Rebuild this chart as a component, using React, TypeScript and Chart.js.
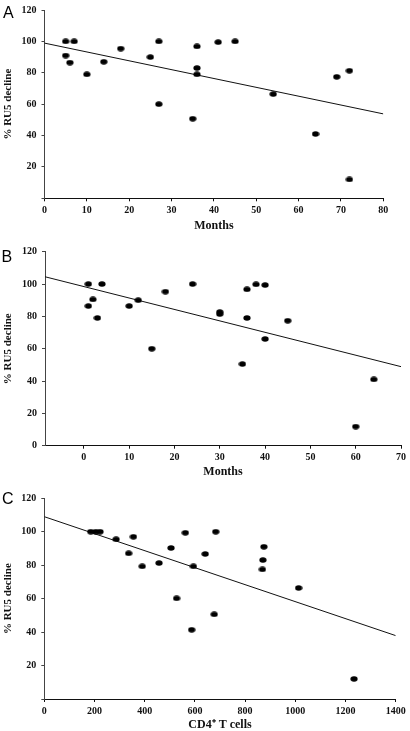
import React, { useEffect, useRef } from "react";
import { Chart, registerables } from "chart.js";

Chart.register(...registerables);

// ---------- Data ----------
// Panel A: months vs % RU5 decline
const aMonths = [5, 7, 5, 6, 10, 14, 18, 25, 27, 27, 35, 36, 36, 36, 41, 45, 54, 64, 69, 72, 72];
const aDecline = [100, 100, 91, 86.5, 79, 87, 95.4, 90, 100, 60, 50.7, 96.8, 83, 79, 99.5, 100, 66.4, 41, 77.4, 81.3, 12];
const aFitX = [0, 80];
const aFitY = [98.9, 53.8];

// Panel B: months vs % RU5 decline
const bMonths = [1, 1, 2, 3, 4, 10, 12, 15, 18, 24, 30, 30, 35, 36, 36, 38, 40, 40, 45, 60, 64];
const bDecline = [100, 86.4, 90.5, 79, 100, 86.4, 90, 60, 95.3, 100, 82.7, 81.4, 50.5, 96.7, 79, 99.8, 99.4, 66, 77.3, 11.8, 41];
const bFitX = [-8.57, 70];
const bFitY = [104.5, 48.9];

// Panel C: CD4+ T cells vs % RU5 decline
const cCells = [185, 205, 222, 286, 355, 336, 390, 457, 505, 562, 594, 641, 683, 527, 677, 587, 875, 871, 869, 1013, 1234];
const cDecline = [100, 100, 100, 95.5, 97, 87.1, 79.3, 81.3, 90.3, 99.4, 79.3, 86.7, 100, 60.2, 50.6, 41.4, 91, 83.1, 77.5, 66.4, 12];
const cFitX = [0, 1400];
const cFitY = [109, 37.9];

// Ticks
const yTickValues = [0, 20, 40, 60, 80, 100, 120];
const aYLabels = ["", "20", "40", "60", "80", "100", "120"];
const bYLabels = ["0", "20", "40", "60", "80", "100", "120"];
const cYLabels = ["", "20", "40", "60", "80", "100", "120"];
const aXTicks = [0, 10, 20, 30, 40, 50, 60, 70, 80];
const bXTicks = [0, 10, 20, 30, 40, 50, 60, 70];
const cXTicks = [0, 200, 400, 600, 800, 1000, 1200, 1400];

const yTitle = "% RU5 decline";
const aXTitle = "Months";
const bXTitle = "Months";
const cXTitle = "CD4\u207A T cells";
const panelLetters = ["A", "B", "C"];

// ---------- Helpers ----------
function makeDot(): HTMLCanvasElement {
  const c = document.createElement("canvas");
  c.width = 8;
  c.height = 6;
  const ctx = c.getContext("2d")!;
  ctx.fillStyle = "#000";
  ctx.beginPath();
  ctx.ellipse(4, 3, 3.6, 2.8, 0, 0, Math.PI * 2);
  ctx.fill();
  return c;
}

const SERIF = "'Liberation Serif', 'Times New Roman', serif";

interface PanelProps {
  xs: number[];
  ys: number[];
  fitX: number[];
  fitY: number[];
  xMin: number;
  xMax: number;
  xTicks: number[];
  yLabels: string[];
  xTitle: string;
  top: number;
  height: number;
  pad: { left: number; right: number; top: number; bottom: number };
  yWidth: number;
  xHeight: number;
  xTitlePad: number;
}

function Panel(p: PanelProps) {
  const ref = useRef<HTMLCanvasElement | null>(null);
  useEffect(() => {
    if (!ref.current) return;
    const dot = makeDot();
    const chart = new Chart(ref.current, {
      type: "scatter",
      data: {
        datasets: [
          {
            data: p.xs.map((x, i) => ({ x, y: p.ys[i] })),
            pointStyle: dot as any,
            pointRadius: 3,
            showLine: false,
          },
          {
            data: p.fitX.map((x, i) => ({ x, y: p.fitY[i] })),
            showLine: true,
            borderColor: "#111",
            borderWidth: 1,
            pointRadius: 0,
          },
        ],
      },
      options: {
        responsive: false,
        animation: false,
        layout: { padding: p.pad },
        plugins: { legend: { display: false }, tooltip: { enabled: false } },
        scales: {
          x: {
            type: "linear",
            min: p.xMin,
            max: p.xMax,
            afterBuildTicks: (s: any) => {
              s.ticks = p.xTicks.map((v) => ({ value: v }));
            },
            afterFit: (s: any) => {
              s.height = p.xHeight;
            },
            grid: {
              drawOnChartArea: false,
              drawTicks: true,
              tickLength: 3,
              color: "#111",
            },
            border: { display: true, color: "#111", width: 1 },
            ticks: {
              padding: 4,
              maxRotation: 0,
              color: "#111",
              font: { family: SERIF, size: 10, weight: "bold", lineHeight: 1 },
              callback: (v: any) => String(v),
            },
            title: {
              display: true,
              text: p.xTitle,
              color: "#111",
              font: { family: SERIF, size: 12, weight: "bold", lineHeight: 1 },
              padding: { top: 0, bottom: p.xTitlePad },
            },
          },
          y: {
            type: "linear",
            min: 0,
            max: 120,
            afterBuildTicks: (s: any) => {
              s.ticks = yTickValues.map((v) => ({ value: v }));
            },
            afterFit: (s: any) => {
              s.width = p.yWidth;
            },
            grid: {
              drawOnChartArea: false,
              drawTicks: true,
              tickLength: 3,
              color: "#444",
            },
            border: { display: true, color: "#444", width: 1 },
            ticks: {
              padding: 5,
              color: "#111",
              font: { family: SERIF, size: 10, weight: "bold", lineHeight: 1 },
              callback: (v: any) => {
                const i = yTickValues.indexOf(Number(v));
                return i >= 0 ? p.yLabels[i] : "";
              },
            },
            title: {
              display: true,
              text: yTitle,
              color: "#111",
              font: { family: SERIF, size: 11, weight: "bold", lineHeight: 1 },
              padding: { top: 2.5, bottom: 0 },
            },
          },
        },
      },
    });
    return () => chart.destroy();
  }, []);
  return (
    <canvas
      ref={ref}
      width={410}
      height={p.height}
      style={{ position: "absolute", left: 0, top: p.top, width: 410, height: p.height }}
    />
  );
}

const letterStyle = (left: number, top: number): React.CSSProperties => ({
  position: "absolute",
  left,
  top,
  fontFamily: "'Liberation Sans', Arial, sans-serif",
  fontSize: 16,
  lineHeight: "16px",
  color: "#000",
});

export default function App() {
  return (
    <div
      style={{
        position: "absolute",
        left: 0,
        top: 0,
        width: 410,
        height: 731,
        background: "#fff",
        overflow: "hidden",
      }}
    >
      <Panel
        xs={aMonths}
        ys={aDecline}
        fitX={aFitX}
        fitY={aFitY}
        xMin={0}
        xMax={80}
        xTicks={aXTicks}
        yLabels={aYLabels}
        xTitle={aXTitle}
        top={0}
        height={240}
        pad={{ left: 0, right: 26.7, top: 5, bottom: 0 }}
        yWidth={44.5}
        xHeight={41.7}
        xTitlePad={8.3}
      />
      <Panel
        xs={bMonths}
        ys={bDecline}
        fitX={bFitX}
        fitY={bFitY}
        xMin={-8.57}
        xMax={70}
        xTicks={bXTicks}
        yLabels={bYLabels}
        xTitle={bXTitle}
        top={240}
        height={245}
        pad={{ left: 0, right: 4.3, top: 11.7, bottom: 0 }}
        yWidth={45}
        xHeight={39.3}
        xTitlePad={6.7}
      />
      <Panel
        xs={cCells}
        ys={cDecline}
        fitX={cFitX}
        fitY={cFitY}
        xMin={0}
        xMax={1400}
        xTicks={cXTicks}
        yLabels={cYLabels}
        xTitle={cXTitle}
        top={485}
        height={246}
        pad={{ left: 0, right: 14.3, top: 13.3, bottom: 0 }}
        yWidth={44.3}
        xHeight={32}
        xTitlePad={0}
      />
      <div style={letterStyle(3, 4.8)}>{panelLetters[0]}</div>
      <div style={letterStyle(1.5, 249.2)}>{panelLetters[1]}</div>
      <div style={letterStyle(2, 491)}>{panelLetters[2]}</div>
    </div>
  );
}
